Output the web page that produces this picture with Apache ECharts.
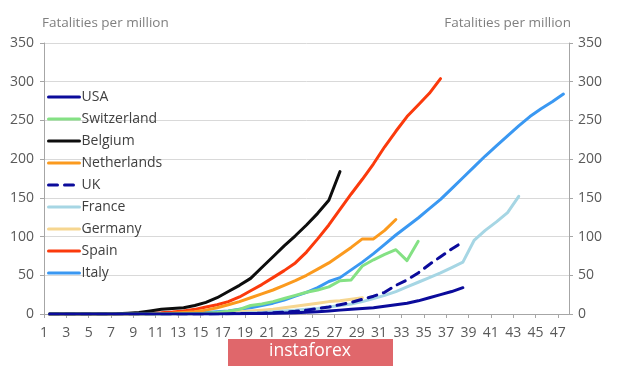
<!DOCTYPE html>
<html>
<head>
<meta charset="utf-8">
<script src="https://cdn.jsdelivr.net/npm/echarts@6/dist/echarts.min.js"></script>
<style>html,body{margin:0;padding:0;background:#fff}#c{width:620px;height:368px}</style>
</head>
<body>
<div id="c"></div>
<script>
// Days since outbreak (x axis categories)
const days = Array.from({length: 47}, (_, i) => String(i + 1));
const tickDays = Array.from({length: 48}, (_, i) => String(i + 1));
const yTicks = [0, 50, 100, 150, 200, 250, 300, 350];
const axisTitle = 'Fatalities per million';

// Fatalities per million, starting at day 1
const usa = [0,0,0,0,0,0,0,0,0,0, 0,0,0,0,0,0.1,0.2,0.3,0.5,0.7, 0.9,1.2,1.7,2.3,3,4,5,6,7,8, 10,12,14,17,21,25,29,34];
const switzerland = [0,0,0,0,0,0,0,0,0,0, 0,0.2,0.4,0.7,1,2,3.5,6,11,13, 16,20,24,28,31,35,43,44,62,70, 77,83,69,94];
const belgium = [0,0,0,0,0,0,0.3,1,2,4, 6,7,8,11,15,21,29,37,46,60, 74,88,101,115,130,147,184];
const netherlands = [0,0,0,0,0,0,0,0,0,0.3, 0.6,1,2,3,5,8,12,16,21,26, 31,37,43,50,58,66,76,86,97,97, 108,122];
const uk = [0,0,0,0,0,0,0,0,0,0, 0,0,0,0,0,0.2,0.4,0.6,0.8,1, 1.5,2.5,3.5,5,7,9,12,15,19,23, 28,37,44,53,64,74,84,93];
const france = [0,0,0,0,0,0,0,0,0,0, 0,0,0,0,0,0.3,0.6,1,1.5,2, 3,4,5,6,7,9,11,13,16,20, 24,29,35,41,47,53,60,67,95,108, 119,131,152];
const germany = [0,0,0,0,0,0,0,0,0,0, 0,0,0,0,0.5,1,2,3,4,5, 6,8,10,12,14,16,17,19,21];
const spain = [0,0,0,0,0,0,0,0,0.5,1, 1.5,2.5,4,6,9,12,16,22,30,38, 47,56,66,80,97,115,135,155,174,194, 216,236,255,270,285,304];
const italy = [0,0,0,0,0,0,0,0,0,0.2, 0.4,0.6,0.9,1.3,2,3,4,6,8,11, 14,18,23,28,34,42,47,57,67,78, 90,102,113,124,136,148,162,176,190,204, 217,230,243,255,265,274,284];

const countries = ['USA','Switzerland','Belgium','Netherlands','UK','France','Germany','Spain','Italy'];
const values = [usa, switzerland, belgium, netherlands, uk, france, germany, spain, italy];
const colors = ['#0b0b9b','#84e184','#0d0d0d','#fb9a1e','#0b0b9b','#a6d6e4','#f6d690','#fb3a0c','#3a98f2'];
const dashed = [false,false,false,false,true,false,false,false,false];

const font = 'Open Sans';
const series = [];
for (let i = countries.length - 1; i >= 0; i--) {
  series.push({
    name: countries[i],
    type: 'line',
    xAxisIndex: 0,
    yAxisIndex: 0,
    data: values[i],
    symbol: 'none',
    smooth: false,
    color: colors[i],
    lineStyle: { width: 3, color: colors[i], type: dashed[i] ? [9, 7] : 'solid', cap: 'round', join: 'round' }
  });
}

const chart = echarts.init(document.getElementById('c'), null, { renderer: 'canvas' });
chart.setOption({
  animation: false,
  backgroundColor: '#ffffff',
  textStyle: { fontFamily: font },
  title: [
    { text: axisTitle, left: 42, top: 16, padding: 0, textStyle: { fontFamily: font, fontSize: 13.5, fontWeight: 'normal', color: '#7f7f7f' } },
    { text: axisTitle, right: 49, top: 16, padding: 0, textStyle: { fontFamily: font, fontSize: 13.5, fontWeight: 'normal', color: '#7f7f7f' } }
  ],
  grid: { left: 44, right: 51, top: 43, bottom: 54, containLabel: false },
  legend: {
    data: countries,
    orient: 'vertical',
    left: 47,
    top: 90,
    padding: 0,
    itemWidth: 31,
    itemHeight: 14,
    itemGap: 8,
    lineStyle: { width: 3 },
    itemStyle: { opacity: 0 },
    textStyle: { fontFamily: font, fontSize: 14, color: '#404040', padding: [0, 0, 0, -3] }
  },
  xAxis: [
    { type: 'category', data: days, boundaryGap: true, show: false, position: 'bottom' },
    {
      type: 'category', data: tickDays, boundaryGap: false, position: 'bottom',
      axisLine: { show: true, lineStyle: { color: '#a6a6a6', width: 1 } },
      axisTick: { show: true, interval: 1, length: 4, lineStyle: { color: '#a6a6a6' } },
      axisLabel: { interval: 1, margin: 12, fontFamily: font, fontSize: 14, color: '#595959',
        formatter: v => (v === '48' ? '' : v) },
      splitLine: { show: false }
    }
  ],
  yAxis: [
    {
      type: 'value', position: 'left', min: 0, max: 350, interval: 50,
      axisLine: { show: true, lineStyle: { color: '#a6a6a6', width: 1 } },
      axisTick: { show: true, length: 4, lineStyle: { color: '#a6a6a6' } },
      axisLabel: { margin: 10, fontFamily: font, fontSize: 14, color: '#595959' },
      splitLine: { show: true, lineStyle: { color: '#d9d9d9', width: 1 } }
    },
    {
      type: 'value', position: 'right', min: 0, max: 350, interval: 50,
      axisLine: { show: true, lineStyle: { color: '#a6a6a6', width: 1 } },
      axisTick: { show: true, length: 4, lineStyle: { color: '#a6a6a6' } },
      axisLabel: { margin: 9, fontFamily: font, fontSize: 14, color: '#595959' },
      splitLine: { show: false }
    }
  ],
  graphic: [
    { type: 'rect', left: 228, top: 339, shape: { width: 165, height: 27 }, style: { fill: '#e0676b' }, z: 100 },
    { type: 'text', left: 'center', top: 342, style: { text: 'instaforex', fill: '#ffffff', font: '17.5px "Open Sans"', textAlign: 'center' }, z: 101 }
  ],
  series: series
});
</script>
</body>
</html>
